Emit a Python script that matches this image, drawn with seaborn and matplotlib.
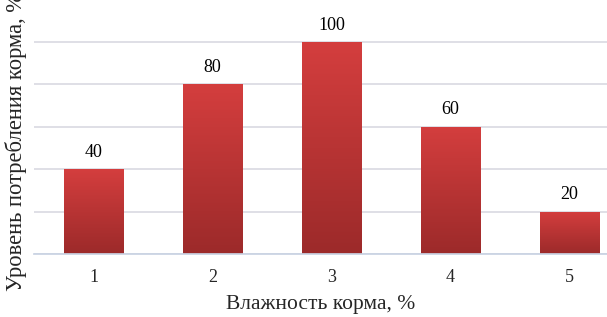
import numpy as np
import pandas as pd
import seaborn as sns
import matplotlib.pyplot as plt
from matplotlib.colors import LinearSegmentedColormap

# Данные
moisture = ["1", "2", "3", "4", "5"]
consumption = [40, 80, 100, 60, 20]

df = pd.DataFrame({"moisture": moisture, "consumption": consumption})

sns.set_theme(style="white")
plt.rcParams['font.family'] = ['Liberation Serif', 'DejaVu Serif']

fig = plt.figure(figsize=(6.07, 3.17), dpi=100)
ax = fig.add_axes([0.056, 0.199, 0.944, 0.801])

sns.barplot(data=df, x="moisture", y="consumption", color="#c83434",
            width=0.5, ax=ax, edgecolor="none")

# градиент на столбцах
cmap = LinearSegmentedColormap.from_list("grad", ["#9c2a2a", "#d43e3e"])
grad = np.linspace(0, 1, 256).reshape(-1, 1)
for patch in ax.patches:
    x0, y0 = patch.get_x(), patch.get_y()
    w, h = patch.get_width(), patch.get_height()
    im = ax.imshow(grad, cmap=cmap, origin="lower", aspect="auto",
                   extent=[x0, x0 + w, y0, y0 + h], zorder=3)
    im.set_clip_path(patch)
    patch.set_facecolor("none")

for i, v in enumerate(consumption):
    ax.annotate(str(v), (i, v), xytext=(0, 6), textcoords="offset points",
                ha="center", va="bottom", fontsize=13, color="black")

ax.set_xlim(-0.5, 4.315)
ax.set_ylim(0, 119.8)
ax.set_yticks([0, 20, 40, 60, 80, 100])
ax.set_yticklabels([])
ax.tick_params(axis="y", length=0)
ax.tick_params(axis="x", length=0, labelsize=13, pad=11)
ax.grid(axis="y", color="#d9d9e2", linewidth=1.2)
ax.set_axisbelow(True)
for s in ["top", "right", "left"]:
    ax.spines[s].set_visible(False)
ax.spines["bottom"].set_color("#c9d3e3")
ax.spines["bottom"].set_zorder(4)

ax.set_xlabel("Влажность корма, %", fontsize=15.5, labelpad=6)
ax.set_ylabel("Уровень потребления корма, %", fontsize=16.3)
ax.yaxis.set_label_coords(-0.012, 0.44)

fig.savefig("out.png", dpi=100)
